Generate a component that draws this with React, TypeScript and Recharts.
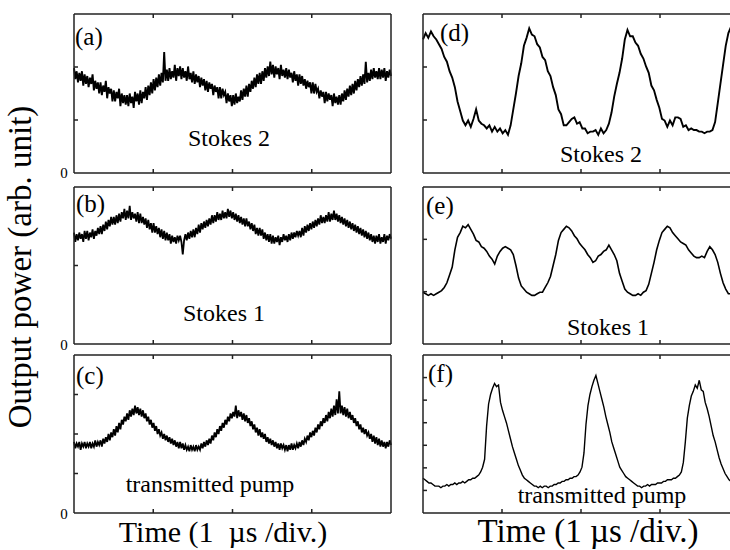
import { LineChart, Line, XAxis, YAxis } from "recharts";

// (a) Stokes 2
const stokes2Left = [
  0.66, 0.59, 0.64, 0.57, 0.63, 0.58, 0.64, 0.55, 0.62, 0.56,
  0.61, 0.54, 0.6, 0.56, 0.62, 0.52, 0.58, 0.53, 0.57, 0.5,
  0.57, 0.49, 0.55, 0.51, 0.58, 0.47, 0.54, 0.5, 0.53, 0.45,
  0.52, 0.45, 0.51, 0.47, 0.53, 0.42, 0.5, 0.44, 0.49, 0.43,
  0.49, 0.42, 0.5, 0.44, 0.48, 0.41, 0.51, 0.45, 0.5, 0.43,
  0.52, 0.44, 0.51, 0.47, 0.54, 0.46, 0.55, 0.49, 0.57, 0.5,
  0.59, 0.52, 0.6, 0.54, 0.62, 0.55, 0.63, 0.57, 0.76, 0.58,
  0.65, 0.58, 0.66, 0.59, 0.64, 0.6, 0.68, 0.58, 0.66, 0.61,
  0.67, 0.59, 0.66, 0.6, 0.64, 0.58, 0.67, 0.59, 0.63, 0.57,
  0.64, 0.56, 0.62, 0.57, 0.61, 0.54, 0.6, 0.55, 0.59, 0.52,
  0.58, 0.51, 0.57, 0.53, 0.56, 0.49, 0.55, 0.51, 0.54, 0.47,
  0.54, 0.47, 0.53, 0.49, 0.51, 0.44, 0.5, 0.45, 0.49, 0.42,
  0.49, 0.43, 0.5, 0.44, 0.48, 0.45, 0.52, 0.46, 0.53, 0.48,
  0.55, 0.48, 0.56, 0.51, 0.58, 0.53, 0.6, 0.54, 0.62, 0.56,
  0.63, 0.56, 0.64, 0.58, 0.66, 0.6, 0.67, 0.61, 0.7, 0.62,
  0.68, 0.6, 0.67, 0.62, 0.66, 0.59, 0.68, 0.61, 0.65, 0.6,
  0.66, 0.59, 0.65, 0.6, 0.63, 0.57, 0.64, 0.58, 0.62, 0.55,
  0.62, 0.56, 0.61, 0.55, 0.59, 0.53, 0.58, 0.54, 0.57, 0.5,
  0.57, 0.5, 0.56, 0.51, 0.53, 0.47, 0.52, 0.48, 0.51, 0.44,
  0.51, 0.45, 0.5, 0.46, 0.49, 0.42, 0.5, 0.44, 0.48, 0.43,
  0.49, 0.43, 0.5, 0.45, 0.52, 0.46, 0.53, 0.48, 0.55, 0.49,
  0.56, 0.5, 0.58, 0.52, 0.59, 0.54, 0.61, 0.55, 0.62, 0.56,
  0.7, 0.57, 0.63, 0.58, 0.65, 0.59, 0.66, 0.6, 0.64, 0.59,
  0.66, 0.59, 0.65, 0.6, 0.66, 0.58, 0.64, 0.6, 0.65, 0.61,
];

// (b) Stokes 1
const stokes1Left = [
  0.71, 0.65, 0.7, 0.66, 0.71, 0.67, 0.7, 0.65, 0.72, 0.67,
  0.72, 0.66, 0.71, 0.68, 0.73, 0.67, 0.72, 0.69, 0.74, 0.7,
  0.75, 0.7, 0.76, 0.72, 0.78, 0.73, 0.79, 0.75, 0.81, 0.76,
  0.81, 0.76, 0.82, 0.77, 0.83, 0.78, 0.84, 0.8, 0.86, 0.79,
  0.85, 0.8, 0.88, 0.79, 0.84, 0.8, 0.83, 0.78, 0.84, 0.77,
  0.83, 0.77, 0.81, 0.76, 0.8, 0.74, 0.79, 0.73, 0.77, 0.71,
  0.77, 0.71, 0.75, 0.7, 0.74, 0.68, 0.73, 0.67, 0.72, 0.66,
  0.71, 0.66, 0.7, 0.64, 0.69, 0.65, 0.68, 0.64, 0.69, 0.66,
  0.69, 0.65, 0.57, 0.66, 0.7, 0.66, 0.71, 0.67, 0.72, 0.68,
  0.73, 0.68, 0.74, 0.7, 0.76, 0.71, 0.77, 0.73, 0.78, 0.74,
  0.79, 0.75, 0.8, 0.76, 0.82, 0.77, 0.82, 0.78, 0.84, 0.79,
  0.83, 0.79, 0.85, 0.8, 0.84, 0.8, 0.86, 0.81, 0.85, 0.8,
  0.84, 0.79, 0.83, 0.78, 0.82, 0.77, 0.81, 0.76, 0.8, 0.75,
  0.8, 0.75, 0.78, 0.73, 0.77, 0.72, 0.76, 0.7, 0.74, 0.69,
  0.74, 0.69, 0.73, 0.67, 0.71, 0.66, 0.7, 0.65, 0.7, 0.64,
  0.69, 0.64, 0.68, 0.65, 0.69, 0.63, 0.68, 0.65, 0.7, 0.66,
  0.69, 0.65, 0.7, 0.66, 0.71, 0.67, 0.71, 0.68, 0.72, 0.69,
  0.72, 0.68, 0.74, 0.69, 0.75, 0.71, 0.76, 0.72, 0.77, 0.73,
  0.78, 0.74, 0.79, 0.75, 0.8, 0.76, 0.82, 0.77, 0.81, 0.77,
  0.82, 0.78, 0.84, 0.78, 0.83, 0.79, 0.85, 0.79, 0.83, 0.78,
  0.82, 0.77, 0.81, 0.76, 0.8, 0.75, 0.79, 0.74, 0.78, 0.73,
  0.77, 0.72, 0.76, 0.71, 0.75, 0.7, 0.74, 0.69, 0.73, 0.68,
  0.72, 0.67, 0.71, 0.66, 0.7, 0.65, 0.69, 0.64, 0.69, 0.65,
  0.7, 0.64, 0.68, 0.65, 0.7, 0.64, 0.69, 0.66, 0.7, 0.67,
];

// (c) transmitted pump
const pumpLeft = [
  0.45, 0.41, 0.44, 0.42, 0.45, 0.4, 0.44, 0.42, 0.45, 0.41,
  0.44, 0.42, 0.45, 0.41, 0.44, 0.42, 0.46, 0.42, 0.45, 0.43,
  0.46, 0.42, 0.47, 0.44, 0.48, 0.45, 0.5, 0.46, 0.51, 0.48,
  0.53, 0.49, 0.55, 0.51, 0.57, 0.53, 0.59, 0.56, 0.61, 0.58,
  0.63, 0.59, 0.65, 0.61, 0.66, 0.62, 0.68, 0.63, 0.67, 0.62,
  0.66, 0.61, 0.65, 0.6, 0.63, 0.58, 0.61, 0.56, 0.59, 0.54,
  0.57, 0.52, 0.55, 0.5, 0.53, 0.49, 0.51, 0.47, 0.5, 0.46,
  0.49, 0.45, 0.48, 0.44, 0.47, 0.43, 0.46, 0.42, 0.45, 0.41,
  0.45, 0.41, 0.44, 0.4, 0.43, 0.4, 0.42, 0.39, 0.43, 0.4,
  0.42, 0.39, 0.43, 0.4, 0.42, 0.4, 0.44, 0.41, 0.45, 0.42,
  0.46, 0.43, 0.47, 0.44, 0.49, 0.46, 0.51, 0.48, 0.53, 0.5,
  0.55, 0.52, 0.57, 0.54, 0.59, 0.56, 0.61, 0.58, 0.63, 0.6,
  0.64, 0.61, 0.68, 0.6, 0.65, 0.61, 0.64, 0.59, 0.63, 0.58,
  0.62, 0.57, 0.6, 0.55, 0.58, 0.53, 0.56, 0.51, 0.54, 0.49,
  0.53, 0.48, 0.51, 0.47, 0.5, 0.45, 0.48, 0.44, 0.47, 0.43,
  0.46, 0.42, 0.45, 0.41, 0.44, 0.4, 0.44, 0.41, 0.43, 0.4,
  0.43, 0.39, 0.43, 0.4, 0.44, 0.4, 0.43, 0.41, 0.44, 0.41,
  0.45, 0.42, 0.46, 0.43, 0.47, 0.45, 0.49, 0.46, 0.51, 0.48,
  0.52, 0.49, 0.54, 0.51, 0.56, 0.53, 0.58, 0.55, 0.6, 0.57,
  0.62, 0.58, 0.64, 0.6, 0.66, 0.61, 0.68, 0.62, 0.72, 0.63,
  0.77, 0.63, 0.68, 0.62, 0.67, 0.61, 0.66, 0.6, 0.64, 0.59,
  0.62, 0.57, 0.6, 0.55, 0.58, 0.53, 0.56, 0.51, 0.54, 0.5,
  0.53, 0.49, 0.51, 0.47, 0.5, 0.45, 0.49, 0.44, 0.48, 0.43,
  0.47, 0.42, 0.46, 0.42, 0.45, 0.41, 0.45, 0.42, 0.46, 0.43,
];

// (d) Stokes 2, on resonance
const stokes2Right = [
  0.84, 0.88, 0.85, 0.89, 0.86, 0.84, 0.81, 0.78, 0.73, 0.7,
  0.64, 0.6, 0.54, 0.45, 0.39, 0.33, 0.3, 0.33, 0.29, 0.34,
  0.4, 0.33, 0.31, 0.3, 0.28, 0.3, 0.26, 0.29, 0.26, 0.28,
  0.25, 0.27, 0.24, 0.3, 0.4, 0.5, 0.61, 0.69, 0.8, 0.85,
  0.91, 0.87, 0.86, 0.81, 0.79, 0.73, 0.71, 0.64, 0.61, 0.54,
  0.49, 0.4, 0.37, 0.3, 0.3, 0.32, 0.34, 0.35, 0.31, 0.32,
  0.28, 0.28, 0.25, 0.26, 0.26, 0.27, 0.24, 0.28, 0.25, 0.27,
  0.31, 0.38, 0.48, 0.56, 0.63, 0.72, 0.84, 0.9, 0.86, 0.86,
  0.82, 0.8, 0.75, 0.72, 0.67, 0.63, 0.55, 0.52, 0.46, 0.41,
  0.34, 0.33, 0.29, 0.33, 0.3, 0.35, 0.35, 0.34, 0.29, 0.3,
  0.27, 0.28, 0.27, 0.27, 0.26, 0.26, 0.25, 0.26, 0.26, 0.27,
  0.32, 0.44, 0.56, 0.68, 0.8, 0.88, 0.92, 0.9, 0.93, 0.9,
];

// (e) Stokes 1, on resonance
const stokes1Right = [
  0.33, 0.32, 0.31, 0.32, 0.31, 0.32, 0.33, 0.34, 0.36, 0.39,
  0.44, 0.49, 0.6, 0.68, 0.71, 0.75, 0.74, 0.76, 0.73, 0.7,
  0.66, 0.65, 0.62, 0.61, 0.59, 0.56, 0.54, 0.51, 0.56, 0.59,
  0.61, 0.62, 0.61, 0.6, 0.57, 0.5, 0.42, 0.37, 0.35, 0.33,
  0.32, 0.31, 0.31, 0.32, 0.33, 0.33, 0.36, 0.39, 0.43, 0.5,
  0.57, 0.66, 0.71, 0.73, 0.75, 0.74, 0.72, 0.69, 0.67, 0.64,
  0.62, 0.6, 0.57, 0.55, 0.52, 0.53, 0.56, 0.57, 0.59, 0.6,
  0.63, 0.6, 0.57, 0.53, 0.45, 0.4, 0.35, 0.33, 0.32, 0.31,
  0.31, 0.32, 0.31, 0.33, 0.34, 0.38, 0.45, 0.52, 0.6, 0.66,
  0.71, 0.73, 0.75, 0.74, 0.71, 0.69, 0.67, 0.65, 0.64, 0.63,
  0.6, 0.58, 0.56, 0.55, 0.55, 0.56, 0.55, 0.59, 0.62, 0.6,
  0.57, 0.52, 0.45, 0.39, 0.35, 0.32, 0.32, 0.31, 0.32, 0.33,
];

// (f) transmitted pump, on resonance
const pumpRight = [
  0.22, 0.21, 0.2, 0.19, 0.19, 0.18, 0.17, 0.17, 0.17, 0.16,
  0.17, 0.17, 0.18, 0.17, 0.18, 0.18, 0.19, 0.18, 0.19, 0.19,
  0.2, 0.19, 0.2, 0.21, 0.21, 0.22, 0.22, 0.23, 0.24, 0.26,
  0.29, 0.34, 0.55, 0.69, 0.75, 0.79, 0.82, 0.8, 0.81, 0.7,
  0.65, 0.61, 0.57, 0.52, 0.47, 0.42, 0.38, 0.34, 0.3, 0.27,
  0.24, 0.22, 0.21, 0.2, 0.19, 0.18, 0.17, 0.17, 0.16, 0.17,
  0.16, 0.17, 0.17, 0.16, 0.17, 0.17, 0.18, 0.18, 0.19, 0.19,
  0.2, 0.2, 0.21, 0.21, 0.22, 0.22, 0.23, 0.23, 0.24, 0.26,
  0.29, 0.38, 0.56, 0.68, 0.75, 0.8, 0.84, 0.87, 0.82, 0.77,
  0.72, 0.67, 0.61, 0.56, 0.51, 0.45, 0.41, 0.37, 0.33, 0.29,
  0.27, 0.25, 0.23, 0.22, 0.21, 0.2, 0.19, 0.18, 0.17, 0.17,
  0.16, 0.17, 0.17, 0.18, 0.17, 0.18, 0.18, 0.18, 0.19, 0.19,
  0.19, 0.2, 0.2, 0.21, 0.21, 0.21, 0.22, 0.22, 0.23, 0.24,
  0.26, 0.32, 0.45, 0.6, 0.68, 0.74, 0.77, 0.81, 0.79, 0.84,
  0.78, 0.77, 0.7, 0.66, 0.61, 0.55, 0.49, 0.45, 0.4, 0.35,
  0.31, 0.28, 0.25, 0.23, 0.21, 0.2, 0.19, 0.18, 0.18, 0.17,
];

const xDivisions = [1, 2, 3]; // 4 divisions across each trace
const thirds = [1 / 3, 2 / 3];
const half = [0.5];
const quarters = [0.25, 0.5, 0.75];
const sevenths = [1 / 7, 2 / 7, 3 / 7, 4 / 7, 5 / 7, 6 / 7];

const SERIF = { fontFamily: '"Liberation Serif", "Times New Roman", serif' };
const PAD = 4;
const frame = { stroke: "#222", strokeWidth: 1.5 };
const noLabel = () => null;

type TraceProps = {
  values: number[];
  left: number;
  top: number;
  width: number;
  height: number;
  yTicks: number[];
  lineWidth?: number;
};

function Trace({ values, left, top, width, height, yTicks, lineWidth = 1.5 }: TraceProps) {
  const n = values.length;
  const rows = values.map((v, i) => ({ t: i, v }));
  const xTicks = xDivisions.map((d) => (d * (n - 1)) / 4);
  const xProps = {
    dataKey: "t",
    type: "number" as const,
    domain: [0, n - 1],
    ticks: xTicks,
    interval: 0,
    mirror: true,
    tick: noLabel,
    tickSize: 4,
    height: 1,
    axisLine: frame,
    tickLine: frame,
  };
  const yProps = {
    type: "number" as const,
    domain: [0, 1],
    ticks: yTicks,
    interval: 0,
    mirror: true,
    tick: noLabel,
    tickSize: 4,
    width: 1,
    axisLine: frame,
    tickLine: frame,
  };
  return (
    <div style={{ position: "absolute", left: left - PAD, top: top - PAD }}>
      <LineChart
        width={width + 2 * PAD}
        height={height + 2 * PAD}
        data={rows}
        margin={{ top: PAD, right: PAD, bottom: PAD, left: PAD }}
      >
        <XAxis xAxisId="b" orientation="bottom" {...xProps} />
        <XAxis xAxisId="t" orientation="top" {...xProps} />
        <YAxis yAxisId="l" orientation="left" {...yProps} />
        <YAxis yAxisId="r" orientation="right" {...yProps} />
        <Line
          xAxisId="b"
          yAxisId="l"
          dataKey="v"
          type="linear"
          stroke="#000"
          strokeWidth={lineWidth}
          dot={false}
          isAnimationActive={false}
        />
      </LineChart>
    </div>
  );
}

export default function App() {
  return (
    <div
      style={{
        position: "fixed",
        left: 0,
        top: 0,
        width: 730,
        height: 550,
        overflow: "hidden",
        background: "#fff",
      }}
    >
      <Trace values={stokes2Left} left={74} top={14} width={317} height={159} yTicks={thirds} lineWidth={1.9} />
      <Trace values={stokes1Left} left={74} top={187} width={317} height={157} yTicks={half} lineWidth={1.8} />
      <Trace values={pumpLeft} left={74} top={355} width={317} height={158} yTicks={quarters} lineWidth={1.8} />
      <Trace values={stokes2Right} left={423} top={14} width={316} height={159} yTicks={thirds} lineWidth={1.9} />
      <Trace values={stokes1Right} left={423} top={187} width={316} height={157} yTicks={thirds} lineWidth={1.6} />
      <Trace values={pumpRight} left={423} top={355} width={316} height={158} yTicks={sevenths} lineWidth={1.4} />

      <svg
        width={730}
        height={550}
        style={{ position: "absolute", left: 0, top: 0, pointerEvents: "none" }}
        fill="#000"
      >
        <text x={31} y={267} fontSize={33} textAnchor="middle" transform="rotate(-90 31 267)" style={SERIF}>
          Output power (arb. unit)
        </text>

        <text x={64} y={178} fontSize={15} textAnchor="middle" style={SERIF}>0</text>
        <text x={64} y={350} fontSize={15} textAnchor="middle" style={SERIF}>0</text>
        <text x={64} y={519} fontSize={15} textAnchor="middle" style={SERIF}>0</text>

        <text x={75} y={45} fontSize={25} style={SERIF}>(a)</text>
        <text x={76} y={212} fontSize={25} style={SERIF}>(b)</text>
        <text x={76} y={384} fontSize={25} style={SERIF}>(c)</text>
        <text x={440} y={41} fontSize={25} style={SERIF}>(d)</text>
        <text x={426} y={214} fontSize={25} style={SERIF}>(e)</text>
        <text x={428} y={382} fontSize={25} style={SERIF}>(f)</text>

        <text x={229} y={146} fontSize={24} textAnchor="middle" style={SERIF}>Stokes 2</text>
        <text x={601} y={162} fontSize={24} textAnchor="middle" style={SERIF}>Stokes 2</text>
        <text x={224} y={321} fontSize={24} textAnchor="middle" style={SERIF}>Stokes 1</text>
        <text x={608} y={335} fontSize={24} textAnchor="middle" style={SERIF}>Stokes 1</text>
        <text x={210} y={492} fontSize={24} textAnchor="middle" style={SERIF}>transmitted pump</text>
        <text x={602} y={503} fontSize={24} textAnchor="middle" style={SERIF}>transmitted pump</text>

        <text x={223} y={542} fontSize={30} textAnchor="middle" style={{ ...SERIF, whiteSpace: "pre" }}>
          {"Time (1  \u00b5s /div.)"}
        </text>
        <text x={588} y={542} fontSize={33} textAnchor="middle" style={SERIF}>
          {"Time (1 \u00b5s /div.)"}
        </text>
      </svg>
    </div>
  );
}
